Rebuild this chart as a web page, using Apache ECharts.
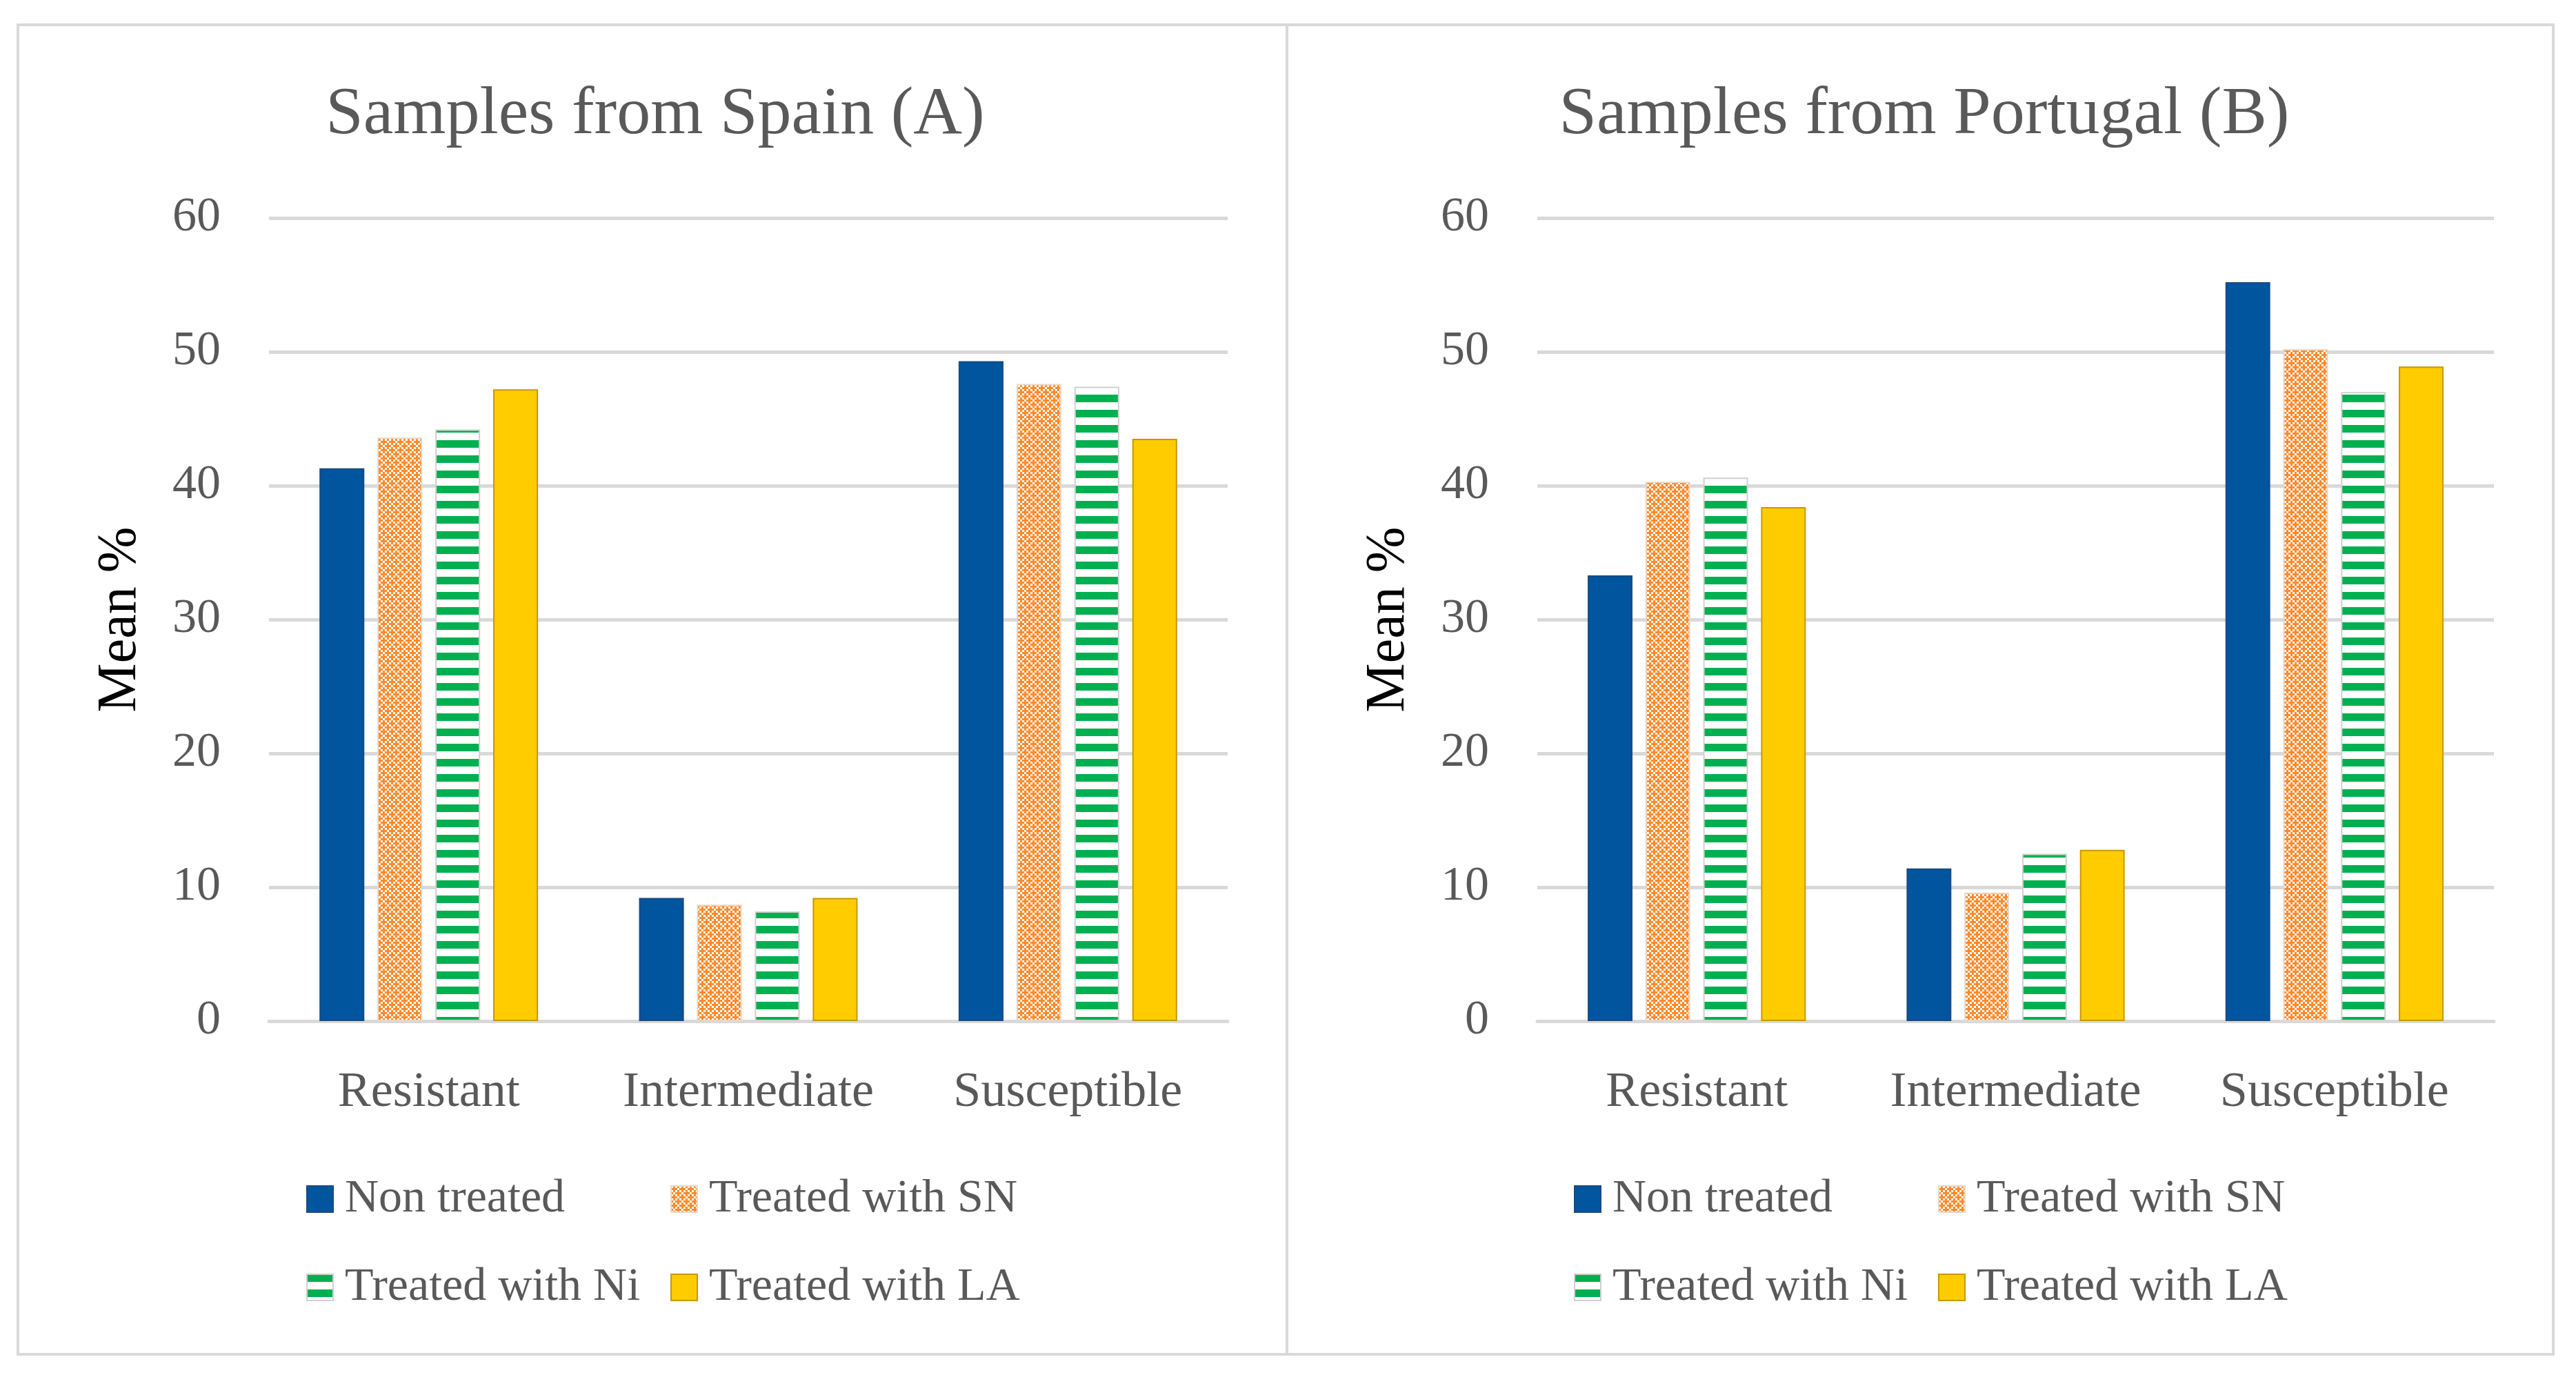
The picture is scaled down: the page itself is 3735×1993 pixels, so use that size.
<!DOCTYPE html>
<html>
<head>
<meta charset="utf-8">
<script src="https://cdn.jsdelivr.net/npm/echarts@6/dist/echarts.min.js"></script>
<style>
html,body{margin:0;padding:0;background:#fff;}
#chart{width:3735px;height:1993px;}
</style>
</head>
<body>
<div id="chart"></div>
<script>
// ---- data ----
const categories = ['Resistant', 'Intermediate', 'Susceptible'];
const seriesNames = ['Non treated', 'Treated with SN', 'Treated with Ni', 'Treated with LA'];
const titles = ['Samples from Spain (A)', 'Samples from Portugal (B)'];
const yAxisName = 'Mean %';
const spainNonTreated = [41.3, 9.2, 49.3];
const spainSN = [43.6, 8.7, 47.6];
const spainNi = [44.2, 8.2, 47.4];
const spainLA = [47.2, 9.2, 43.5];
const portugalNonTreated = [33.3, 11.4, 55.2];
const portugalSN = [40.3, 9.6, 50.2];
const portugalNi = [40.6, 12.5, 47.0];
const portugalLA = [38.4, 12.8, 48.9];

// ---- patterns ----
function crossPattern() {
  const c = document.createElement('canvas');
  c.width = 12; c.height = 12;
  const g = c.getContext('2d');
  g.fillStyle = '#ffffff'; g.fillRect(0, 0, 12, 12);
  g.fillStyle = '#FF8A2B';
  const cells = [[1,0],[0,1],[1,1],[2,1],[1,2],[3,2],[2,3],[3,3],[0,3],[3,0]];
  cells.forEach(([x, y]) => g.fillRect(x * 3, y * 3, 3, 3));
  return c;
}
function stripePattern() {
  const c = document.createElement('canvas');
  c.width = 22; c.height = 22;
  const g = c.getContext('2d');
  g.fillStyle = '#ffffff'; g.fillRect(0, 0, 22, 22);
  g.fillStyle = '#00B050'; g.fillRect(0, 0, 22, 11);
  return c;
}
const styles = [
  { color: '#00559F', borderColor: '#1B4A80', borderWidth: 2 },
  { color: { image: crossPattern(), repeat: 'repeat' }, borderColor: '#E9D7C8', borderWidth: 2 },
  { color: { image: stripePattern(), repeat: 'repeat' }, borderColor: '#D0D0D0', borderWidth: 2 },
  { color: '#FFCC00', borderColor: '#C99700', borderWidth: 2 }
];

const panelData = [
  [spainNonTreated, spainSN, spainNi, spainLA],
  [portugalNonTreated, portugalSN, portugalNi, portugalLA]
];

const FONT = 'Liberation Serif';
const GREY = '#595959';
const gridLeft = [390, 2229];
const gridWidth = [1390, 1387];
const panelCenter = [945, 2785];
const legendCols = [[444, 972], [2282, 2810]];
const legendRows = [1704, 1832];

const option = {
  backgroundColor: '#ffffff',
  animation: false,
  title: titles.map((t, i) => ({
    text: t, left: panelCenter[i], top: 113, textAlign: 'center',
    textStyle: { fontFamily: FONT, fontSize: 98, fontWeight: 'normal', color: GREY }
  })),
  grid: [0, 1].map(i => ({ left: gridLeft[i], top: 316, width: gridWidth[i], height: 1164, containLabel: false })),
  xAxis: [0, 1].map(i => ({
    type: 'category', gridIndex: i, data: categories,
    axisLine: { show: true, lineStyle: { color: '#D9D9D9', width: 5 } },
    axisTick: { show: false },
    axisLabel: { interval: 0, hideOverlap: false, margin: 68, fontFamily: FONT, fontSize: 72, color: GREY }
  })),
  yAxis: [0, 1].map(i => ({
    type: 'value', gridIndex: i, min: 0, max: 60, interval: 10,
    name: yAxisName, nameLocation: 'middle', nameRotate: 90, nameGap: 175,
    nameTextStyle: { fontFamily: FONT, fontSize: 80, color: '#000000' },
    axisLine: { show: false }, axisTick: { show: false },
    axisLabel: { margin: 70, fontFamily: FONT, fontSize: 70, color: GREY },
    splitLine: { lineStyle: { color: '#D9D9D9', width: 5 } }
  })),
  legend: [],
  series: [],
  graphic: [
    { type: 'rect', shape: { x: 26, y: 36, width: 1840, height: 1927 }, style: { fill: 'none', stroke: '#D9D9D9', lineWidth: 4 }, z: -1 },
    { type: 'rect', shape: { x: 1866, y: 36, width: 1836, height: 1927 }, style: { fill: 'none', stroke: '#D9D9D9', lineWidth: 4 }, z: -1 }
  ]
};

[0, 1].forEach(p => {
  seriesNames.forEach((name, s) => {
    option.series.push({
      type: 'bar', name: name, xAxisIndex: p, yAxisIndex: p,
      data: panelData[p][s],
      barGap: '29%', barCategoryGap: '31.6%',
      itemStyle: styles[s]
    });
    const col = s % 2, row = Math.floor(s / 2);
    option.legend.push({
      data: [name], left: legendCols[p][col], top: legendRows[row], padding: 0,
      itemWidth: 38, itemHeight: 38, selectedMode: false,
      icon: 'rect',
      textStyle: { fontFamily: FONT, fontSize: 68, color: GREY, lineHeight: 68, padding: [0, 0, 0, 12] }
    });
  });
});

const chart = echarts.init(document.getElementById('chart'), null, { renderer: 'canvas' });
chart.setOption(option);
</script>
</body>
</html>
